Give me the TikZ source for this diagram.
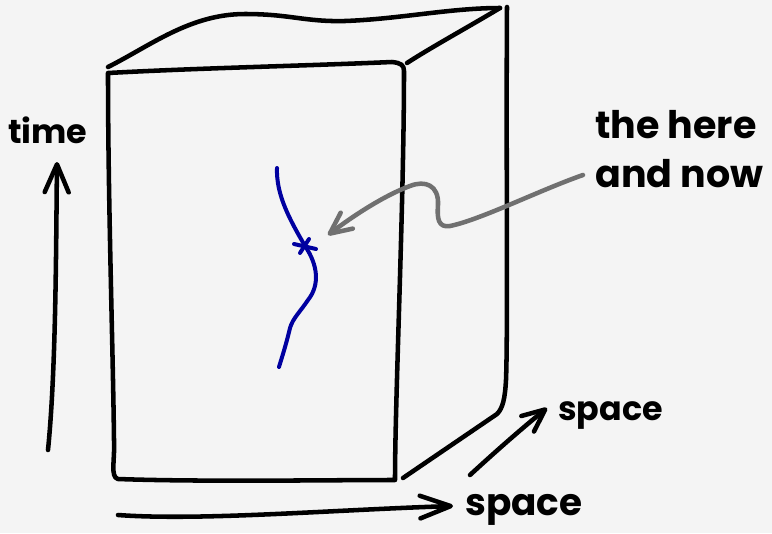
\documentclass[tikz,border=0pt]{standalone}
\usepackage{fontspec}
\setmainfont{Poppins}
\usetikzlibrary{arrows.meta, positioning}
\definecolor{PaperGray}{RGB}{244,244,244}
\definecolor{WorldBlue}{RGB}{0,0,160}
\definecolor{PointerGray}{RGB}{112,112,112}

\begin{document}
\begin{tikzpicture}[x=0.75pt,y=-0.75pt,
    ink/.style={line width=3.4pt,line cap=round,line join=round},
    arr/.style={ink,-{Straight Barb[round,length=21pt,width=18pt]}},
    pointer/.style={ink,PointerGray,-{Straight Barb[round,length=16pt,width=15pt]}},
    world/.style={ink,WorldBlue,line width=3pt},
    lbl/.style={inner sep=0pt,anchor=base west}
  ]
  \fill[PaperGray] (0,0) rectangle (772,533);
  \useasboundingbox (0,0) rectangle (772,533);

  % the block of spacetime
  \draw[ink] (108,73) .. controls (108,200) and (113,350) .. (114,440)
    .. controls (115,460) and (110,477) .. (118,479)
    .. controls (200,482) and (330,480) .. (395,480)
    .. controls (395,400) and (404,200) .. (404,71)
    .. controls (404,65) and (401,63) .. (392,62)
    .. controls (300,66) and (200,68) .. cycle;
  \draw[ink] (108,67) .. controls (150,46) and (190,14) .. (245,14)
    .. controls (290,14) and (305,22) .. (345,21)
    .. controls (400,19) and (450,8) .. (500,8);
  \draw[ink] (407,63) .. controls (430,48) and (470,26) .. (500,8);
  \draw[ink] (507,7) .. controls (506,150) and (508,330) .. (506,380)
    .. controls (505,398) and (503,408) .. (497,414) -- (403,478);

  % worldline
  \coordinate (now) at (305,246);
  \draw[world] (277,168) .. controls (276,195) and (290,220) .. (now)
    .. controls (318,265) and (320,285) .. (308,300)
    .. controls (300,312) and (293,318) .. (290,328)
    .. controls (286,345) and (282,357) .. (279,367);
  \draw[world] (294,244) -- (316,249);
  \draw[world] (309,239) -- (300,253);

  % labels
  \node[lbl,font=\bfseries\fontsize{25}{30}\selectfont] (timelabel) at (8,143) {time};
  \node[lbl,font=\bfseries\fontsize{28}{36}\selectfont] (spacex) at (465,515) {space};
  \node[lbl,font=\bfseries\fontsize{25}{32}\selectfont] (spacey) at (558,420) {space};
  \node[inner sep=0pt,anchor=north west,align=left,
        font=\bfseries\fontsize{28.5}{37}\selectfont] (herenow) at (595,110) {the here\\and now};

  % axes
  \coordinate (timefoot) at (48,450);
  \coordinate (timetip) at (57,162);
  \draw[arr] (timefoot) .. controls (56,370) and (56,250) .. (timetip);
  \coordinate (xfoot) at (118,515);
  \coordinate (xtip) at (453,506);
  \draw[arr,-{Straight Barb[round,length=23pt,width=17pt]}] (xfoot)
    .. controls (200,521) and (330,510) .. (xtip);
  \coordinate (yfoot) at (470,475);
  \coordinate (ytip) at (547,408);
  \draw[arr,-{Straight Barb[round,length=17pt,width=15pt]}] (yfoot)
    .. controls (495,452) and (520,430) .. (ytip);

  % pointer to the here and now
  \coordinate (pointerfoot) at (583,175);
  \coordinate (pointertip) at (328,235);
  \draw[pointer] (pointerfoot) .. controls (540,190) and (480,220) .. (450,226)
    .. controls (438,228) and (437,218) .. (438,205)
    .. controls (439,185) and (425,180) .. (410,186)
    .. controls (380,197) and (345,222) .. (pointertip);
\end{tikzpicture}
\end{document}
